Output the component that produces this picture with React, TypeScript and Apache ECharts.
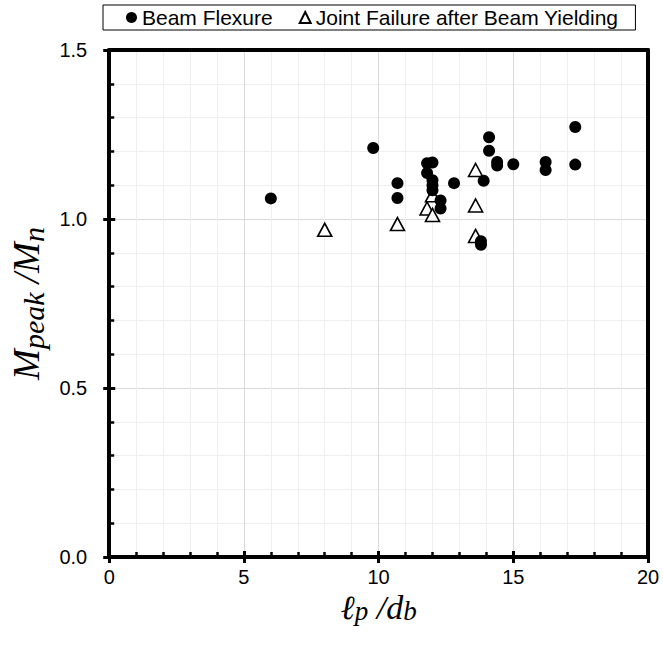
import React, { useEffect, useRef } from 'react';
import * as echarts from 'echarts';

// Beam Flexure (filled circles)
const flexureX = [6.0, 9.8, 10.7, 10.7, 11.8, 12.0, 11.8, 12.0, 12.0, 12.0, 12.3, 12.3, 12.8, 13.8, 13.8, 13.9, 14.1, 14.1, 14.4, 14.4, 15.0, 16.2, 16.2, 17.3, 17.3];
const flexureY = [1.061, 1.21, 1.106, 1.062, 1.165, 1.167, 1.136, 1.115, 1.1, 1.085, 1.055, 1.031, 1.106, 0.934, 0.924, 1.113, 1.242, 1.202, 1.169, 1.158, 1.162, 1.169, 1.145, 1.272, 1.161];

// Joint Failure after Beam Yielding (open triangles)
const jointX = [8.0, 10.7, 11.8, 12.0, 12.0, 13.6, 13.6, 13.6];
const jointY = [0.968, 0.985, 1.031, 1.012, 1.07, 1.145, 1.04, 0.95];

const seriesNames = ['Beam Flexure', 'Joint Failure after Beam Yielding'];
const xTicks = [0, 5, 10, 15, 20];
const yTicks = [0, 0.5, 1.0, 1.5];

const sans = "'Liberation Sans', Arial, sans-serif";
const serif = "'Liberation Serif', 'Times New Roman', serif";

export default function App() {
  const ref = useRef<HTMLDivElement>(null);
  useEffect(() => {
    const chart = echarts.init(ref.current!, null, { renderer: 'svg' });
    const xMin = xTicks[0];
    const xMax = xTicks[xTicks.length - 1];
    const xInt = xTicks[1] - xTicks[0];
    const yMin = yTicks[0];
    const yMax = yTicks[yTicks.length - 1];
    const yInt = yTicks[1] - yTicks[0];
    const xMain = { fontFamily: serif, fontStyle: 'italic', fontSize: 34, color: '#000', lineHeight: 34, verticalAlign: 'top' };
    const xSub = { fontFamily: serif, fontStyle: 'italic', fontSize: 27, color: '#000', lineHeight: 14, verticalAlign: 'bottom' };
    const yMain = { fontFamily: serif, fontStyle: 'italic', fontSize: 37, color: '#000', lineHeight: 44, verticalAlign: 'middle' };
    const ySub = { fontFamily: serif, fontStyle: 'italic', fontSize: 30, color: '#000', lineHeight: 23, verticalAlign: 'bottom' };
    const black = '#000';
    const frameAxis = (pos: string, min: number, max: number, interval: number) => ({
      type: 'value', min, max, interval, position: pos,
      axisLine: { show: true, onZero: false, lineStyle: { color: black, width: 4 } },
      axisTick: { show: false }, axisLabel: { show: false }, splitLine: { show: false },
    });
    const outerTickAxis = (pos: string, min: number, max: number, interval: number) => ({
      type: 'value', min, max, interval, position: pos,
      axisLine: { show: false },
      axisTick: { show: true, inside: false, length: 6, lineStyle: { color: black, width: 3 } },
      axisLabel: { show: false }, splitLine: { show: false },
    });
    const option: any = {
      animation: false,
      backgroundColor: '#fff',
      grid: { left: 107, right: 15, top: 50, bottom: 94 },
      legend: {
        data: seriesNames,
        left: 103, top: 5,
        orient: 'horizontal',
        padding: [2, 17, 2, 23],
        itemGap: 26,
        itemWidth: 11, itemHeight: 11,
        borderColor: black, borderWidth: 1,
        textStyle: { fontFamily: sans, fontSize: 21, color: black },
      },
      xAxis: [
        {
          type: 'value', min: xMin, max: xMax, interval: xInt, position: 'bottom',
          axisLine: { show: true, onZero: false, lineStyle: { color: black, width: 4 } },
          axisTick: { show: true, inside: true, length: 6, lineStyle: { color: black, width: 3 } },
          minorTick: { show: true, splitNumber: 5, length: 5, lineStyle: { color: black, width: 2.5 } },
          axisLabel: { fontFamily: sans, fontSize: 20, lineHeight: 20, color: black, margin: 10 },
          splitLine: { show: true, lineStyle: { color: '#d9d9d9', width: 1 } },
          minorSplitLine: { show: true, lineStyle: { color: '#efefef', width: 1 } },
          name: '{m|ℓ}{s|p}{m| /d}{s|b}',
          nameLocation: 'middle', nameGap: 33, nameMoveOverlap: false,
          nameTextStyle: { rich: { m: xMain, s: xSub } },
        },
        outerTickAxis('bottom', xMin, xMax, xInt),
        frameAxis('top', xMin, xMax, xInt),
      ],
      yAxis: [
        {
          type: 'value', min: yMin, max: yMax, interval: yInt, position: 'left',
          axisLine: { show: true, onZero: false, lineStyle: { color: black, width: 4 } },
          axisTick: { show: true, inside: true, length: 6, lineStyle: { color: black, width: 3 } },
          minorTick: { show: true, splitNumber: 5, length: 5, lineStyle: { color: black, width: 2.5 } },
          axisLabel: { fontFamily: sans, fontSize: 20, color: black, margin: 22, formatter: (v: number) => v.toFixed(1) },
          splitLine: { show: true, lineStyle: { color: '#d9d9d9', width: 1 } },
          minorSplitLine: { show: true, lineStyle: { color: '#efefef', width: 1 } },
          name: '{m|M}{s|peak}{m| /M}{s|n}',
          nameLocation: 'middle', nameGap: 54, nameRotate: 90,
          nameTextStyle: { rich: { m: yMain, s: ySub } },
        },
        outerTickAxis('left', yMin, yMax, yInt),
        frameAxis('right', yMin, yMax, yInt),
      ],
      series: [
        {
          name: seriesNames[0], type: 'scatter', xAxisIndex: 0, yAxisIndex: 0,
          symbol: 'circle', symbolSize: 12,
          itemStyle: { color: black, opacity: 1 },
          data: flexureX.map((x, i) => [x, flexureY[i]]),
          z: 3,
        },
        {
          name: seriesNames[1], type: 'scatter', xAxisIndex: 0, yAxisIndex: 0,
          symbol: 'triangle', symbolSize: [14, 13],
          itemStyle: { color: '#fff', borderColor: black, borderWidth: 1.6, opacity: 1 },
          data: jointX.map((x, i) => [x, jointY[i]]),
          z: 2,
        },
      ],
    };
    chart.setOption(option);
    return () => chart.dispose();
  }, []);
  return <div ref={ref} style={{ position: 'fixed', left: 0, top: 0, width: 663, height: 651 }} />;
}
